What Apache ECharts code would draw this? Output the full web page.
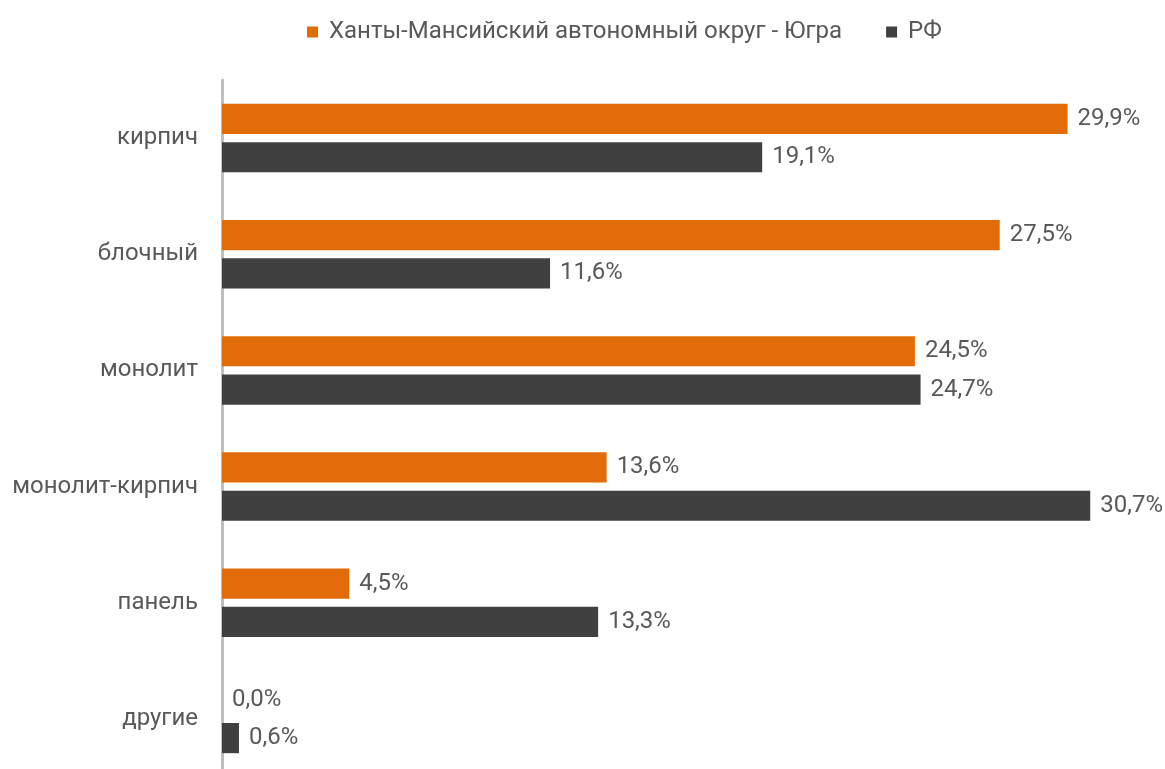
<!DOCTYPE html>
<html>
<head>
    <meta charset="UTF-8">
    <title></title>
    <style>
        body { margin: 0; background: #fff; overflow: hidden; }
    </style>
</head>
<body>
<!-- контейнер чуть выше окна: нижняя категория уходит за край, как в оригинале -->
<div id="main" style="width: 1165px;height:777px;"></div>
<script type="text/javascript" src="https://cdn.jsdelivr.net/npm/echarts@6/dist/echarts.min.js"></script>
<script type="text/javascript">
    // категории сверху вниз
    var categories = ['кирпич', 'блочный', 'монолит', 'монолит-кирпич', 'панель', 'другие'];
    var seriesNames = ['Ханты-Мансийский автономный округ - Югра', 'РФ'];
    var yugra = [29.9, 27.5, 24.5, 13.6, 4.5, 0.0];
    var rf = [19.1, 11.6, 24.7, 30.7, 13.3, 0.6];

    var textColor = '#595959';

    function fmt(p) {
        return p.value.toFixed(1).replace('.', ',') + '%';
    }

    var myChart = echarts.init(document.getElementById('main'));
    var option = {
        color: ['#E36C0A', '#404040'],
        textStyle: { fontFamily: 'Roboto' },
        legend: {
            top: 15,
            left: 302,
            itemWidth: 11,
            itemHeight: 11,
            itemGap: 44,
            icon: 'rect',
            textStyle: { color: textColor, fontSize: 24, fontFamily: 'Roboto', padding: [0, 0, 0, 6] },
            data: seriesNames
        },
        grid: {
            left: 222,
            width: 905,
            top: 80,
            bottom: 0
        },
        xAxis: {
            type: 'value',
            min: 0,
            max: 32,
            show: false
        },
        yAxis: {
            type: 'category',
            inverse: true,
            data: categories,
            axisLine: { lineStyle: { color: '#BFBFBF', width: 3 } },
            axisTick: { show: false },
            axisLabel: { color: textColor, fontSize: 24, margin: 24, fontFamily: 'Roboto' }
        },
        series: [
            {
                name: seriesNames[0],
                type: 'bar',
                data: yugra,
                barCategoryGap: '41%',
                barGap: '27%',
                label: { show: true, position: 'right', distance: 10, color: textColor, fontSize: 24, formatter: fmt }
            },
            {
                name: seriesNames[1],
                type: 'bar',
                data: rf,
                barCategoryGap: '41%',
                barGap: '27%',
                label: { show: true, position: 'right', distance: 10, color: textColor, fontSize: 24, formatter: fmt }
            }
        ]
    };
    myChart.setOption(option);
</script>
</body>
</html>
